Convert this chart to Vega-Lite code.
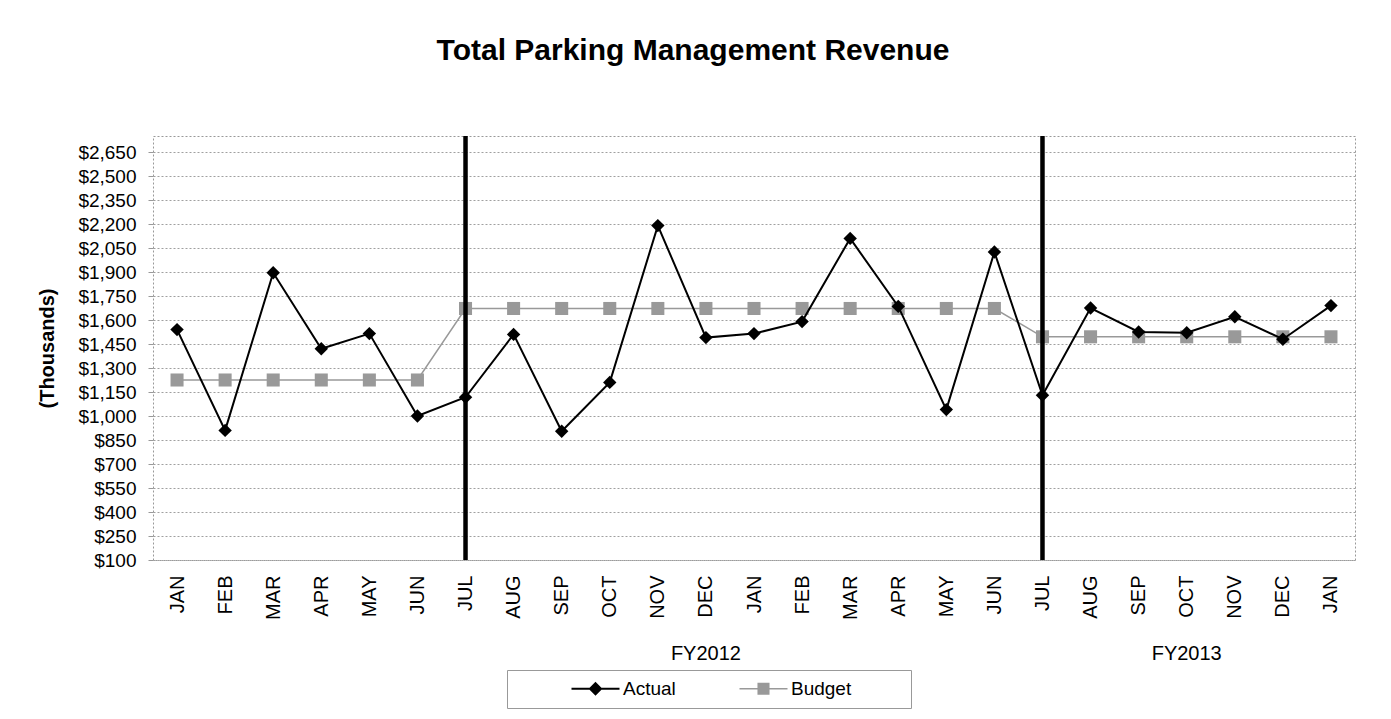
{
  "$schema": "https://vega.github.io/schema/vega-lite/v6.json",
  "autosize": {"type": "none"},
  "width": 1202,
  "height": 424,
  "padding": {"left": 153, "top": 136, "right": 36, "bottom": 159},
  "background": "white",
  "title": {
    "text": "Total Parking Management Revenue",
    "font": "Liberation Sans",
    "fontSize": 30,
    "fontWeight": "bold",
    "color": "#000000",
    "anchor": "middle",
    "frame": "group",
    "dx": -61,
    "offset": 68
  },
  "config": {
    "view": {"stroke": "#999999", "strokeDash": [2, 2]},
    "font": "Liberation Sans"
  },
  "datasets": {
    "revenue": [
      {"key": "JAN-11", "series": "Actual", "value": 1540},
      {"key": "FEB-11", "series": "Actual", "value": 910},
      {"key": "MAR-11", "series": "Actual", "value": 1895},
      {"key": "APR-11", "series": "Actual", "value": 1420},
      {"key": "MAY-11", "series": "Actual", "value": 1515},
      {"key": "JUN-11", "series": "Actual", "value": 1000},
      {"key": "JUL-11", "series": "Actual", "value": 1117},
      {"key": "AUG-11", "series": "Actual", "value": 1510},
      {"key": "SEP-11", "series": "Actual", "value": 905},
      {"key": "OCT-11", "series": "Actual", "value": 1210},
      {"key": "NOV-11", "series": "Actual", "value": 2190},
      {"key": "DEC-11", "series": "Actual", "value": 1490},
      {"key": "JAN-12", "series": "Actual", "value": 1515},
      {"key": "FEB-12", "series": "Actual", "value": 1590},
      {"key": "MAR-12", "series": "Actual", "value": 2110},
      {"key": "APR-12", "series": "Actual", "value": 1685},
      {"key": "MAY-12", "series": "Actual", "value": 1040},
      {"key": "JUN-12", "series": "Actual", "value": 2025},
      {"key": "JUL-12", "series": "Actual", "value": 1130},
      {"key": "AUG-12", "series": "Actual", "value": 1675},
      {"key": "SEP-12", "series": "Actual", "value": 1525},
      {"key": "OCT-12", "series": "Actual", "value": 1520},
      {"key": "NOV-12", "series": "Actual", "value": 1620},
      {"key": "DEC-12", "series": "Actual", "value": 1480},
      {"key": "JAN-13", "series": "Actual", "value": 1690},
      {"key": "JAN-11", "series": "Budget", "value": 1225},
      {"key": "FEB-11", "series": "Budget", "value": 1225},
      {"key": "MAR-11", "series": "Budget", "value": 1225},
      {"key": "APR-11", "series": "Budget", "value": 1225},
      {"key": "MAY-11", "series": "Budget", "value": 1225},
      {"key": "JUN-11", "series": "Budget", "value": 1225},
      {"key": "JUL-11", "series": "Budget", "value": 1672},
      {"key": "AUG-11", "series": "Budget", "value": 1672},
      {"key": "SEP-11", "series": "Budget", "value": 1672},
      {"key": "OCT-11", "series": "Budget", "value": 1672},
      {"key": "NOV-11", "series": "Budget", "value": 1672},
      {"key": "DEC-11", "series": "Budget", "value": 1672},
      {"key": "JAN-12", "series": "Budget", "value": 1672},
      {"key": "FEB-12", "series": "Budget", "value": 1672},
      {"key": "MAR-12", "series": "Budget", "value": 1672},
      {"key": "APR-12", "series": "Budget", "value": 1672},
      {"key": "MAY-12", "series": "Budget", "value": 1672},
      {"key": "JUN-12", "series": "Budget", "value": 1672},
      {"key": "JUL-12", "series": "Budget", "value": 1495},
      {"key": "AUG-12", "series": "Budget", "value": 1495},
      {"key": "SEP-12", "series": "Budget", "value": 1495},
      {"key": "OCT-12", "series": "Budget", "value": 1495},
      {"key": "NOV-12", "series": "Budget", "value": 1495},
      {"key": "DEC-12", "series": "Budget", "value": 1495},
      {"key": "JAN-13", "series": "Budget", "value": 1495}
    ],
    "dividers": [{"key": "JUL-11"}, {"key": "JUL-12"}],
    "fiscal": [
      {"key": "DEC-11", "label": "FY2012", "shift": 24},
      {"key": "OCT-12", "label": "FY2013", "shift": 0}
    ]
  },
  "layer": [
    {
      "data": {"name": "revenue"},
      "encoding": {
        "x": {
          "field": "key",
          "type": "nominal",
          "scale": {
            "type": "point",
            "padding": 0.5,
            "domain": ["JAN-11","FEB-11","MAR-11","APR-11","MAY-11","JUN-11","JUL-11","AUG-11","SEP-11","OCT-11","NOV-11","DEC-11","JAN-12","FEB-12","MAR-12","APR-12","MAY-12","JUN-12","JUL-12","AUG-12","SEP-12","OCT-12","NOV-12","DEC-12","JAN-13"]
          },
          "axis": {
            "title": null,
            "labelExpr": "slice(datum.value, 0, 3)",
            "labelAngle": -90,
            "labelFont": "Liberation Sans",
            "labelFontSize": 20,
            "labelColor": "#000000",
            "labelPadding": 15,
            "ticks": false,
            "domain": false,
            "grid": false
          }
        },
        "y": {
          "field": "value",
          "type": "quantitative",
          "scale": {"domain": [100, 2750], "nice": false, "zero": false},
          "axis": {
            "values": [100,250,400,550,700,850,1000,1150,1300,1450,1600,1750,1900,2050,2200,2350,2500,2650],
            "format": "$,.0f",
            "title": "(Thousands)",
            "titleFont": "Liberation Sans",
            "titleFontSize": 20,
            "titleFontWeight": "bold",
            "titleColor": "#000000",
            "titlePadding": 20,
            "labelFont": "Liberation Sans",
            "labelFontSize": 19,
            "labelColor": "#000000",
            "labelPadding": 12,
            "tickColor": "#999999",
            "tickSize": 5,
            "domain": false,
            "gridColor": "#a0a0a0",
            "gridDash": [2, 2]
          }
        },
        "color": {
          "field": "series",
          "type": "nominal",
          "scale": {"domain": ["Actual", "Budget"], "range": ["#000000", "#999999"]},
          "legend": {
            "title": "MMM",
            "titleOrient": "right",
            "titleOpacity": 0,
            "titleFont": "Liberation Sans",
            "titleFontSize": 19,
            "titlePadding": 3,
            "orient": "none",
            "legendX": 354,
            "legendY": 534,
            "direction": "horizontal",
            "labelFont": "Liberation Sans",
            "labelFontSize": 19,
            "labelColor": "#000000",
            "labelOffset": 18,
            "symbolOffset": 70,
            "columnPadding": 8,
            "symbolSize": 2304,
            "symbolStrokeWidth": 1.5,
            "strokeColor": "#999999",
            "fillColor": "#ffffff",
            "padding": 9,
            "encode": {
              "symbols": {
                "update": {
                  "shape": {"signal": "datum.value === 'Actual' ? 'M-1,0L1,0M0,-0.23L0.23,0L0,0.23L-0.23,0Z' : 'M-1,0L1,0M-0.22,-0.22L0.22,-0.22L0.22,0.22L-0.22,0.22Z'"},
                  "fill": {"scale": "color", "field": "value"},
                  "stroke": {"scale": "color", "field": "value"},
                  "strokeWidth": {"signal": "datum.value === 'Actual' ? 2 : 1.5"},
                  "opacity": {"value": 1}
                }
              }
            }
          }
        }
      },
      "layer": [
        {
          "transform": [{"filter": "datum.series === 'Budget'"}],
          "mark": {"type": "line", "strokeWidth": 1.5}
        },
        {
          "transform": [{"filter": "datum.series === 'Budget'"}],
          "mark": {"type": "point", "shape": "square", "filled": true, "size": 170, "opacity": 1}
        },
        {
          "data": {"name": "dividers"},
          "mark": {"type": "rule", "color": "#000000", "strokeWidth": 4.5},
          "encoding": {"y": null, "color": null}
        },
        {
          "transform": [{"filter": "datum.series === 'Actual'"}],
          "mark": {"type": "line", "strokeWidth": 2}
        },
        {
          "transform": [{"filter": "datum.series === 'Actual'"}],
          "mark": {"type": "point", "shape": "diamond", "filled": true, "size": 180, "opacity": 1}
        },
        {
          "data": {"name": "fiscal"},
          "mark": {"type": "text", "font": "Liberation Sans", "fontSize": 20, "color": "#000000", "baseline": "alphabetic", "align": "center"},
          "encoding": {
            "y": {"value": 524},
            "color": null,
            "text": {"field": "label"},
            "dx": {"field": "shift", "type": "quantitative", "scale": null}
          }
        }
      ]
    }
  ]
}
